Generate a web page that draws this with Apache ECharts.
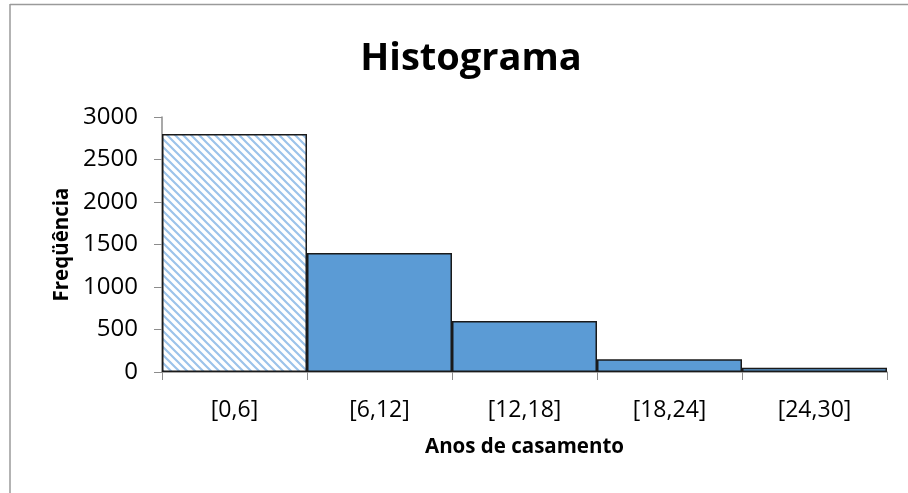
<!DOCTYPE html>
<html>
<head>
<meta charset="utf-8">
<script src="https://cdn.jsdelivr.net/npm/echarts@6/dist/echarts.min.js"></script>
<style>
  html, body { margin: 0; padding: 0; background: #fff; }
  #chart { width: 908px; height: 493px; }
</style>
</head>
<body>
<div id="chart"></div>
<script>
// Histogram of years of marriage
const classes = ['[0,6]', '[6,12]', '[12,18]', '[18,24]', '[24,30]'];
const frequencies = [2800, 1400, 600, 150, 50];
const yTicks = { min: 0, max: 3000, step: 500 };

// Diagonal light-blue hatching for the first class
function makeHatch() {
  const c = document.createElement('canvas');
  c.width = 8; c.height = 8;
  const g = c.getContext('2d');
  g.fillStyle = '#ffffff';
  g.fillRect(0, 0, 8, 8);
  g.strokeStyle = '#9cc3ea';
  g.lineWidth = 2.2;
  g.beginPath();
  g.moveTo(-2, -2); g.lineTo(10, 10);
  g.moveTo(-10, -2); g.lineTo(2, 10);
  g.moveTo(6, -2); g.lineTo(18, 10);
  g.stroke();
  return c;
}
const hatch = makeHatch();

const chart = echarts.init(document.getElementById('chart'), null, { renderer: 'canvas' });
const font = '"Open Sans", Lato, sans-serif';

chart.setOption({
  animation: false,
  title: {
    text: 'Histograma',
    left: 466, top: 35, textAlign: 'center',
    textStyle: { fontFamily: font, fontWeight: 'bold', fontSize: 38, color: '#000' }
  },
  grid: { left: 162, right: 21, top: 117, bottom: 121 },
  xAxis: {
    type: 'category',
    data: classes,
    name: 'Anos de casamento',
    nameLocation: 'middle',
    nameGap: 65,
    nameTextStyle: { fontFamily: font, fontWeight: 'bold', fontSize: 20.5, color: '#000' },
    axisLine: { lineStyle: { color: '#8c8c8c', width: 1.5 } },
    axisTick: { show: true, alignWithLabel: false, length: 8, lineStyle: { color: '#8c8c8c' } },
    axisLabel: { fontFamily: font, fontSize: 23, color: '#000', margin: 27 }
  },
  yAxis: {
    type: 'value',
    min: yTicks.min, max: yTicks.max, interval: yTicks.step,
    name: 'Freqüência',
    nameLocation: 'middle',
    nameGap: 89,
    nameRotate: 90,
    nameTextStyle: { fontFamily: font, fontWeight: 'bold', fontSize: 20.5, color: '#000' },
    axisLine: { show: true, lineStyle: { color: '#8c8c8c', width: 1.5 } },
    axisTick: { show: true, length: 8, lineStyle: { color: '#8c8c8c' } },
    axisLabel: { fontFamily: font, fontSize: 24, color: '#000', margin: 24, formatter: v => String(v) },
    splitLine: { show: false }
  },
  series: [{
    type: 'bar',
    barCategoryGap: '0%',
    data: frequencies.map((v, i) => ({
      value: v,
      itemStyle: i === 0
        ? { color: { image: hatch, repeat: 'repeat' }, borderColor: '#1a1a1a', borderWidth: 1.5 }
        : { color: '#5b9bd5', borderColor: '#1a1a1a', borderWidth: 1.5 }
    }))
  }],
  graphic: [
    { type: 'line', shape: { x1: 10, y1: 4.5, x2: 908, y2: 4.5 }, style: { stroke: '#9a9a9a', lineWidth: 1.5 } },
    { type: 'line', shape: { x1: 10, y1: 4, x2: 10, y2: 493 }, style: { stroke: '#9a9a9a', lineWidth: 1.5 } }
  ]
});
</script>
</body>
</html>
